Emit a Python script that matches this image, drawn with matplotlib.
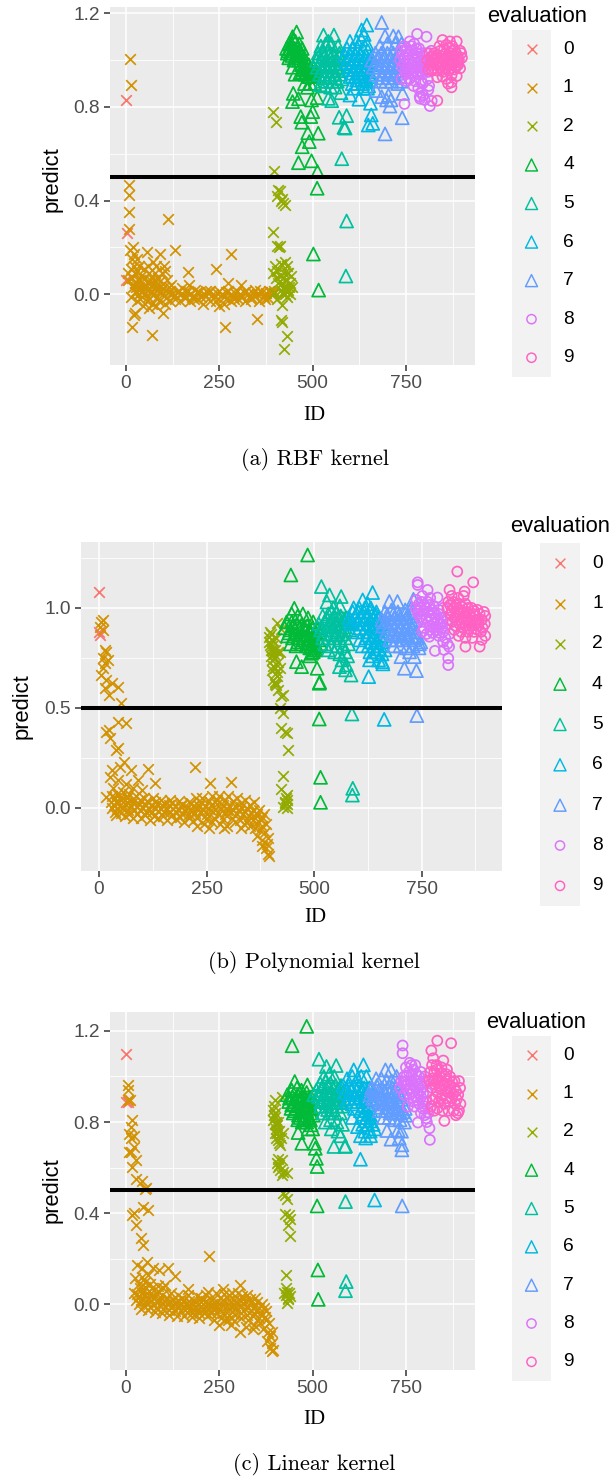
import numpy as np
import matplotlib
matplotlib.use('Agg')
import matplotlib.pyplot as plt

plt.rcParams['font.family'] = ['Liberation Sans', 'DejaVu Sans']

levels = ['0', '1', '2', '4', '5', '6', '7', '8', '9']
colors = ['#F8766D', '#D39200', '#93AA00', '#00BA38', '#00C19F', '#00B9E3', '#619CFF', '#DB72FB', '#FF61C3']
shapes = ['x', 'x', 'x', '^', '^', '^', '^', 'o', 'o']
sizes = {'x': 58, '^': 88, 'o': 52}

# RBF kernel, (ID, predict)
rbf_0 = [(0, .83), (3, .26), (1, .06)]
rbf_1 = [(10, 1.005), (13, .895), (8, .465), (8, .425), (7, .35), (9, .28), (112, .32), (131, .19), (281, .17),
         (240, .11), (165, .095), (274, .05), (308, .04), (265, -.14), (352, -.105), (70, -.175), (15, -.14),
         (25, -.08), (22, -.09), (100, -.08), (250, -.05), (10, .19), (18, .2), (22, .17), (55, .18), (90, .17),
         (72, .14), (15, .15), (30, .15), (12, .11), (20, .12), (35, .12), (48, .11), (60, .12), (80, .12),
         (102, .12), (95, .09), (105, .1), (40, .08), (25, .09), (5, .09), (15, .07), (32, .06), (50, .07),
         (65, .06), (85, .07), (110, .06), (120, .04), (5, .06), (28, .03), (42, .03), (58, .02), (72, .04),
         (90, .03), (12, -.01), (25, .01), (38, -.02), (55, -.03), (70, -.04), (88, -.03), (105, -.04), (118, -.03),
         (30, -.03), (45, -.05), (62, -.06), (80, -.05), (130, -.02), (145, -.03), (160, -.01), (172, -.03),
         (190, -.02), (205, -.04), (225, -.03), (240, -.03), (262, -.04), (280, -.03), (300, -.02), (318, -.03),
         (335, -.02), (355, -.03), (372, -.02), (28, .01), (40, .01), (52, .0), (64, .01), (76, .0), (88, .01),
         (100, .0), (112, .01), (124, .0), (136, .01), (148, .0), (160, .015), (172, .0), (184, .02), (196, .01),
         (208, .0), (220, .01), (232, .0), (244, .005), (256, .0), (268, .01), (280, .0), (292, .005), (304, .0),
         (316, .01), (328, .0), (340, .005), (352, .0), (364, .01), (376, .005), (388, .01), (396, .015), (150, .025),
         (168, .04), (182, -.02), (215, .015), (270, -.015), (290, -.02), (345, .02), (380, -.015), (390, -.005),
         (34, .0), (46, .015), (58, -.01), (70, .015), (82, -.01), (94, .015), (106, -.015), (118, .012), (130, -.005),
         (142, .012), (154, -.012), (166, .012), (178, -.012), (190, .008), (202, -.012), (214, -.008), (226, .012),
         (238, -.012), (250, .012), (262, -.012), (274, .012), (286, -.012), (298, .012), (310, -.012), (322, .012),
         (334, -.012), (346, -.008), (358, .012), (370, -.012), (382, .015), (394, .0), (36, .03), (50, .03), (66, .035),
         (82, .03), (98, .025), (114, .03), (24, .05), (38, .06), (58, .05), (76, .06), (92, .055), (30, .1), (62, .09),
         (78, .09), (18, .03)]
rbf_2 = [(395, .78), (401, .737), (396, .528), (408, .445), (412, .44), (405, .42), (415, .40), (420, .39), (425, .38),
         (418, .405), (395, .268), (405, .205), (412, .207), (409, .2), (398, .12), (405, .1), (395, .09), (415, .13),
         (425, .14), (432, .12), (402, .07), (412, .08), (422, .09), (435, .09), (442, .08), (408, .05), (418, .05),
         (428, .06), (438, .05), (445, .03), (415, .02), (425, .02), (435, .02), (420, .0), (430, -.01), (438, .0),
         (396, .005), (405, -.02), (417, -.045), (415, -.11), (418, -.117), (432, -.177), (423, -.235), (422, .03),
         (428, .03), (432, .01), (426, .0), (436, .03), (420, .07), (430, .09)]
rbf_4 = [(457, 1.12), (446, 1.1), (437, 1.07), (464, 1.07), (450, 1.085), (430, 1.05), (440, 1.05), (452, 1.05), (462, 1.04),
         (472, 1.05), (432, 1.03), (444, 1.02), (456, 1.02), (468, 1.02), (478, 1.01), (436, 1.01), (450, 1.0), (462, 1.0),
         (480, .98), (470, .98), (490, .98), (502, .97), (475, .96), (485, .96), (496, .95), (508, .96), (466, .945), (480, .94),
         (492, .93), (504, .93), (446, .97), (453, .94), (486, .884), (448, .858), (462, .835), (446, .823), (497, .83),
         (512, .84), (468, .759), (471, .735), (495, .759), (500, .78), (487, .69), (515, .688), (491, .652), (472, .63),
         (462, .562), (497, .57), (513, .524), (512, .453), (502, .172), (516, .018), (494, .9), (478, .9), (505, .9),
         (442, 1.07), (454, 1.08), (434, 1.04), (446, 1.04), (458, 1.035), (470, 1.03), (440, 1.03), (452, 1.01), (464, 1.01),
         (474, .97), (484, .97), (494, .965), (504, .95), (472, .95), (482, .95), (492, .945), (488, .93), (498, .94)]
rbf_5 = [(529, 1.107), (557, 1.107), (542, 1.08), (522, 1.06), (535, 1.07), (550, 1.07), (568, 1.06), (515, 1.03), (528, 1.03),
         (540, 1.04), (556, 1.03), (572, 1.03), (510, 1.0), (522, 1.0), (535, 1.0), (548, 1.01), (562, 1.0), (578, 1.0),
         (512, .97), (526, .97), (540, .97), (554, .97), (568, .97), (582, .97), (518, .94), (532, .94), (546, .94), (560, .94),
         (574, .94), (525, .91), (538, .91), (552, .91), (566, .91), (578, .92), (532, .89), (548, .885), (520, .895),
         (560, .885), (542, .837), (551, .827), (576, .861), (571, .756), (591, .763), (584, .713), (587, .71), (578, .579),
         (591, .313), (589, .078), (516, 1.015), (530, 1.015), (544, 1.02), (558, 1.015), (572, 1.015), (519, .985), (533, .985),
         (547, .985), (561, .985), (575, .985), (525, .955), (539, .955), (553, .955), (567, .955), (532, .925), (546, .925), (560, .925)]
rbf_6 = [(645, 1.15), (631, 1.129), (638, 1.11), (600, 1.08), (618, 1.08), (630, 1.09), (645, 1.07), (592, 1.05), (606, 1.05), (620, 1.05),
         (634, 1.05), (648, 1.04), (586, 1.02), (600, 1.02), (614, 1.02), (628, 1.02), (642, 1.02), (656, 1.01), (590, .99), (604, .99),
         (618, .99), (632, .99), (646, .99), (660, .98), (596, .96), (610, .96), (624, .96), (638, .96), (652, .95), (600, .93), (614, .93),
         (628, .93), (642, .92), (656, .93), (606, .9), (620, .9), (634, .9), (600, .851), (624, .833), (636, .88), (647, .88),
         (655, .816), (657, .766), (661, .73), (649, .723), (612, .88), (650, .89), (598, 1.005), (612, 1.005), (626, 1.005), (640, 1.005),
         (654, .995), (603, .975), (617, .975), (631, .975), (645, .975), (608, .945), (622, .945), (636, .945), (650, .94), (618, .915),
         (632, .915), (646, .91)]
rbf_7 = [(685, 1.161), (694, 1.103), (716, 1.103), (730, 1.1), (680, 1.06), (700, 1.07), (722, 1.07), (738, 1.07), (668, 1.03), (684, 1.03),
         (700, 1.03), (716, 1.03), (732, 1.03), (658, 1.0), (672, 1.0), (688, 1.0), (704, 1.0), (720, 1.0), (736, 1.0), (662, .97), (678, .97),
         (694, .97), (710, .97), (726, .97), (742, .97), (670, .94), (686, .94), (702, .94), (718, .94), (734, .93), (680, .91), (696, .91),
         (712, .91), (728, .9), (670, .87), (685, .844), (698, .83), (707, .804), (741, .858), (740, .754), (694, .685), (710, .83), (703, .85), (738, .91),
         (676, 1.015), (692, 1.015), (708, 1.015), (724, 1.015), (668, .985), (682, .985), (698, .985), (714, .985), (730, .985), (676, .955), (692, .955),
         (706, .955), (722, .955), (686, .925), (702, .925), (718, .925)]
rbf_8 = [(780, 1.112), (805, 1.1), (746, .813), (745, 1.06), (760, 1.08), (772, 1.07), (785, 1.05), (737, 1.04), (750, 1.04), (765, 1.04),
         (778, 1.03), (792, 1.03), (806, 1.03), (818, 1.04), (735, 1.0), (748, 1.01), (760, 1.0), (774, 1.0), (788, 1.0), (802, 1.0), (816, 1.01),
         (740, .97), (755, .97), (770, .97), (785, .97), (798, .97), (812, .98), (750, .94), (765, .94), (780, .94), (795, .94), (810, .95),
         (738, .92), (752, .91), (775, .91), (790, .91), (808, .92), (770, .89), (783, .88), (795, .9), (812, .89), (810, .873), (792, .86),
         (787, .844), (796, .85), (788, .835), (814, .804), (819, .826), (800, .83), (760, .92), (820, .96), (742, 1.02), (754, 1.025), (768, 1.02),
         (782, 1.015), (796, 1.015), (744, .985), (756, .985), (768, .985), (780, .985), (792, .985), (804, .985), (748, .955), (760, .955), (772, .955),
         (786, .955), (800, .955), (752, 1.05), (764, 1.06), (778, 1.05)]
rbf_9 = [(848, 1.086), (868, 1.08), (886, 1.08), (840, 1.06), (858, 1.065), (874, 1.06), (895, 1.04), (812, 1.03), (826, 1.03), (842, 1.04), (856, 1.03),
         (870, 1.03), (884, 1.03), (898, 1.03), (808, 1.0), (822, 1.0), (836, 1.01), (850, 1.0), (864, 1.0), (878, 1.0), (892, 1.0), (900, 1.01),
         (815, .98), (830, .98), (845, .98), (860, .98), (875, .98), (890, .98), (820, .955), (835, .955), (850, .95), (865, .955), (880, .96), (895, .965),
         (834, .927), (848, .93), (872, .935), (886, .932), (863, .90), (872, .884), (872, .905), (834, .827), (810, .96), (858, .92), (818, 1.015), (832, 1.02),
         (846, 1.015), (860, 1.015), (874, 1.015), (888, 1.015), (820, .99), (834, .99), (848, .99), (862, .99), (876, .99), (890, .99), (826, .965), (842, .965),
         (856, .965), (870, .965), (884, .97), (852, 1.045), (866, 1.05), (880, 1.045)]

# polynomial kernel
poly_0 = [(0, 1.08), (2, .865), (1, .88)]
poly_1 = [(5, .93), (9, .94), (3, .906), (8, .89), (13, .79), (17, .78), (9, .748), (21, .74), (9, .70), (13, .723), (5, .664), (16, .64), (29, .623),
          (43, .606), (13, .60), (23, .564), (52, .522), (44, .43), (62, .422), (23, .389), (16, .38), (25, .347), (44, .297), (39, .29), (58, .23),
          (31, .189), (48, .205), (75, .19), (114, .192), (223, .205), (91, .14), (25, .155), (130, .122), (258, .122), (307, .13), (16, .055), (33, .097),
          (45, .14), (62, .12), (80, .1), (100, .09), (30, .06), (42, .07), (55, .08), (70, .07), (86, .06), (105, .05), (125, .05), (145, .04), (165, .04),
          (185, .035), (210, .03), (225, .05), (240, .05), (262, .06), (280, .06), (300, .06), (320, .05), (340, .04), (360, .03),
          (28, .03), (40, .03), (52, .04), (65, .03), (78, .03), (92, .02), (106, .02), (120, .015), (134, .02), (148, .01), (162, .015), (176, .01),
          (190, .01), (204, .005), (218, .01), (232, .01), (246, .01), (260, .015), (274, .02), (288, .015), (302, .01), (316, .01), (330, .005), (344, .0),
          (358, -.01), (372, -.01), (384, -.03), (30, .0), (42, -.005), (54, .0), (68, -.01), (82, -.01), (96, -.01), (110, -.02), (124, -.02), (138, -.015),
          (152, -.02), (166, -.02), (180, -.02), (194, -.03), (208, -.03), (222, -.025), (236, -.02), (250, -.03), (264, -.02), (278, -.03), (292, -.03), (306, -.02),
          (320, -.03), (334, -.03), (348, -.04), (362, -.05), (376, -.06), (388, -.08), (40, -.035), (60, -.04), (78, -.05), (98, -.05), (118, -.06), (138, -.05),
          (158, -.06), (178, -.055), (198, -.07), (218, -.065), (228, -.09), (245, -.08), (262, -.07), (282, -.08), (298, -.09), (315, -.07), (330, -.1), (345, -.07),
          (362, -.1), (375, -.11), (385, -.12), (368, -.14), (380, -.16), (392, -.15), (378, -.19), (388, -.2), (392, -.23), (396, -.24), (390, -.18),
          (34, .015), (48, .015), (62, .015), (74, .01), (88, .005), (102, .0), (116, -.005), (130, .0), (144, -.005), (158, -.005), (172, -.005), (186, -.01), (200, -.015),
          (214, -.01), (228, -.005), (242, -.005), (256, -.005), (270, -.005), (284, -.005), (298, -.01), (312, -.01), (326, -.015), (340, -.02), (354, -.025), (368, -.03),
          (380, -.045), (36, .05), (50, .055), (64, .05), (80, .045), (96, .04), (112, .035), (130, .03), (150, .025), (170, .025), (192, .02), (214, .025), (236, .03), (256, .035),
          (274, .04), (294, .04), (312, .035), (330, .025), (350, .015), (36, -.02), (52, -.025), (70, -.03), (88, -.03), (106, -.035), (128, -.04), (148, -.04), (168, -.04), (188, -.045),
          (208, -.05), (228, -.05), (248, -.055), (268, -.05), (288, -.055), (308, -.05), (328, -.06), (346, -.06), (364, -.075), (380, -.09), (255, -.1), (290, -.1), (352, -.09), (338, -.08)]
poly_2 = [(413, .923), (424, .893), (397, .88), (396, .856), (401, .84), (397, .815), (409, .79), (421, .78), (401, .74), (417, .73), (409, .70), (421, .70),
          (405, .64), (411, .614), (417, .59), (428, .564), (421, .497), (428, .472), (424, .397), (436, .372), (440, .289), (428, .16), (424, .092), (438, .063),
          (432, .022), (428, .005), (436, .0), (399, .87), (403, .81), (407, .77), (412, .85), (399, .76), (405, .71), (415, .78), (408, .62), (414, .66),
          (434, .05), (436, .04), (424, .56), (432, .38), (396, .83), (400, .79), (404, .79), (410, .75), (403, .69), (413, .68), (410, .63), (433, .03), (437, .02)]
poly_4 = [(485, 1.265), (446, 1.165), (454, .998), (448, .97), (462, .96), (474, .97), (486, .95), (498, .93), (436, .93), (448, .93), (460, .92), (472, .92),
          (484, .91), (496, .9), (508, .9), (432, .9), (444, .89), (456, .89), (468, .88), (480, .88), (492, .87), (504, .88), (514, .87), (438, .86), (450, .85),
          (462, .85), (474, .85), (486, .84), (498, .84), (510, .84), (445, .82), (458, .81), (470, .82), (482, .81), (494, .8), (506, .81), (516, .82), (494, .773),
          (490, .76), (500, .79), (459, .731), (471, .706), (507, .698), (512, .623), (513, .628), (512, .444), (515, .152), (515, .027), (452, .91), (466, .9), (478, .9),
          (490, .89), (442, .875), (456, .87), (470, .865), (484, .865), (498, .86), (462, .83), (476, .84), (488, .825), (500, .82), (490, .8), (498, .78), (504, .79)]
poly_5 = [(517, 1.107), (536, 1.065), (563, 1.057), (530, 1.03), (545, 1.0), (560, 1.01), (520, .96), (533, .97), (547, .96), (562, .96), (576, .95),
          (511, .92), (525, .93), (538, .93), (552, .92), (566, .92), (580, .93), (515, .89), (528, .89), (542, .89), (556, .88), (570, .89), (583, .89),
          (520, .85), (533, .85), (547, .85), (560, .84), (573, .85), (525, .82), (540, .81), (553, .81), (568, .81), (580, .82), (548, .78), (560, .77),
          (572, .78), (533, .79), (559, .706), (575, .715), (573, .69), (586, .664), (588, .469), (590, .097), (589, .063), (565, .74), (578, .76), (518, .905), (532, .91),
          (545, .905), (558, .905), (572, .905), (522, .87), (536, .87), (550, .865), (564, .87), (530, .945), (544, .94), (556, .945), (570, .94), (540, .98), (552, .98)]
poly_6 = [(636, 1.077), (613, 1.04), (625, 1.02), (592, 1.0), (605, 1.0), (618, 1.0), (632, 1.0), (645, .98), (582, .95), (596, .96), (610, .96), (624, .96),
          (638, .95), (652, .95), (585, .92), (600, .92), (614, .92), (628, .92), (642, .91), (656, .92), (600, .88), (615, .88), (630, .88), (645, .88), (658, .88),
          (606, .84), (620, .85), (634, .85), (648, .84), (662, .86), (612, .81), (626, .81), (640, .81), (654, .81), (630, .78), (644, .78), (658, .77),
          (665, .79), (629, .74), (627, .656), (659, .731), (650, .74), (663, .442), (660, .72), (636, .76), (590, .98), (603, .98), (616, .98), (630, .98), (644, .965),
          (588, .935), (602, .94), (616, .94), (630, .94), (644, .935), (606, .9), (620, .9), (634, .9), (648, .9), (625, .865), (640, .865), (654, .865), (632, .83), (646, .825),
          (660, .83), (650, .795)]
poly_7 = [(675, 1.032), (694, 1.032), (731, 1.043), (665, .98), (680, .99), (695, .98), (712, .99), (726, 1.0), (658, .94), (672, .95), (686, .95), (700, .95),
          (714, .95), (728, .96), (660, .91), (674, .91), (688, .91), (702, .91), (716, .91), (730, .92), (668, .88), (682, .87), (696, .88), (710, .87), (724, .88),
          (738, .88), (676, .84), (690, .84), (704, .84), (718, .85), (732, .84), (745, .82), (685, .81), (700, .81), (715, .8), (730, .81), (744, .8), (748, .83),
          (702, .756), (733, .756), (710, .698), (738, .686), (739, .461), (722, .78), (670, .965), (684, .97), (698, .965), (712, .97), (726, .975), (666, .93), (680, .93),
          (694, .93), (708, .93), (722, .93), (736, .94), (672, .895), (686, .89), (700, .89), (714, .89), (728, .9), (690, .86), (704, .86), (718, .865), (734, .86), (740, .85)]
poly_8 = [(741, 1.128), (741, 1.115), (764, 1.09), (787, 1.052), (752, 1.06), (770, 1.05), (738, 1.04), (750, 1.03), (764, 1.03), (778, 1.01), (736, 1.0), (748, 1.0),
          (760, 1.0), (774, .99), (790, .99), (800, 1.0), (742, .97), (755, .97), (768, .96), (782, .95), (796, .95), (810, .94), (750, .94), (765, .93), (780, .92),
          (795, .92), (810, .92), (755, .9), (770, .89), (786, .89), (800, .88), (815, .87), (752, .881), (768, .856), (790, .86), (805, .85), (781, .785), (802, .79),
          (812, .748), (812, .714), (814, .806), (800, .83), (810, .82), (762, .87), (744, 1.02), (756, 1.015), (768, 1.015), (742, .985), (754, .985), (766, .98), (778, .975),
          (790, .97), (748, .955), (760, .95), (772, .945), (785, .935), (798, .935), (770, .91), (784, .905), (798, .9), (776, .875), (792, .875)]
poly_9 = [(833, 1.182), (870, 1.128), (815, 1.09), (850, 1.082), (820, 1.06), (835, 1.05), (848, 1.06), (812, 1.03), (824, 1.03), (838, 1.02), (852, 1.02), (866, 1.0),
          (880, .99), (895, .98), (810, 1.0), (825, 1.0), (840, .99), (855, .98), (870, .97), (885, .97), (898, .96), (818, .97), (832, .96), (846, .95), (860, .94), (875, .94),
          (890, .94), (822, .93), (838, .92), (852, .91), (866, .91), (882, .91), (897, .92), (826, .89), (842, .88), (858, .88), (872, .88), (888, .88), (836, .86), (852, .85),
          (868, .85), (890, .84), (852, .806), (885, .806), (898, .86), (816, 1.015), (830, 1.015), (844, 1.005), (858, 1.0), (872, .985), (820, .985), (834, .98), (848, .975),
          (862, .965), (876, .96), (826, .95), (840, .94), (854, .935), (868, .93), (882, .925), (830, .91), (846, .9), (860, .895), (876, .895), (892, .9)]

# linear kernel
lin_0 = [(0, 1.10), (0, .89), (6, .89)]
lin_1 = [(4, .963), (6, .94), (4, .897), (11, .897), (17, .81), (13, .78), (9, .748), (20, .74), (12, .729), (22, .69), (9, .67), (12, .67), (27, .634), (15, .605),
         (27, .549), (44, .543), (54, .51), (50, .505), (45, .429), (60, .414), (20, .40), (16, .39), (26, .348), (40, .29), (46, .26), (223, .212), (29, .173), (55, .187),
         (42, .158), (73, .158), (113, .158), (131, .124), (24, .114), (42, .12), (89, .15), (104, .085), (20, .05), (167, .066), (305, .085), (261, .066), (220, .056),
         (60, .13), (35, .09), (50, .1), (65, .09), (85, .08), (100, .07), (120, .05), (140, .04), (165, .04), (190, .035), (215, .04), (240, .05), (262, .045), (285, .05), (300, .05),
         (325, .04), (345, .03), (30, .045), (42, .05), (55, .05), (68, .05), (82, .045), (96, .04), (110, .03), (125, .025), (140, .015), (155, .02), (170, .015), (185, .01),
         (200, .01), (215, .015), (230, .02), (245, .01), (260, .02), (275, .02), (290, .02), (305, .02), (320, .015), (335, .01), (350, .01), (365, .0), (26, .02), (40, .015),
         (54, .015), (68, .015), (82, .01), (96, .0), (110, .0), (124, -.005), (138, -.01), (152, -.015), (166, -.01), (180, -.02), (194, -.025), (208, -.02), (222, -.02), (236, -.015),
         (250, -.02), (264, -.015), (278, -.02), (292, -.02), (306, -.01), (320, -.02), (334, -.03), (348, -.03), (362, -.04), (376, -.03), (40, -.02), (60, -.025), (78, -.035), (96, -.04),
         (116, -.045), (136, -.05), (156, -.05), (176, -.055), (196, -.06), (216, -.05), (236, -.07), (254, -.06), (272, -.07), (290, -.075), (308, -.06), (326, -.07), (344, -.09), (360, -.08),
         (374, -.07), (250, -.09), (305, -.12), (340, -.11), (322, -.1), (368, -.11), (380, -.12), (385, -.14), (378, -.16), (390, -.17), (385, -.19), (395, -.2), (391, -.205), (390, -.12),
         (34, .035), (48, .035), (62, .03), (76, .03), (90, .02), (104, .015), (118, .01), (132, .005), (146, .005), (160, .0), (174, .0), (188, -.005), (202, -.005), (216, .0), (230, .0),
         (244, -.005), (258, .0), (272, .0), (286, .0), (300, .0), (314, .0), (328, -.01), (342, -.01), (356, -.015), (370, -.015), (34, .0), (48, -.005), (64, -.01), (80, -.015), (98, -.02),
         (114, -.025), (130, -.03), (146, -.03), (162, -.035), (178, -.04), (196, -.04), (212, -.035), (228, -.04), (244, -.04), (260, -.04), (276, -.045), (292, -.045), (308, -.04), (324, -.045),
         (340, -.05), (356, -.06), (372, -.055), (384, -.08), (38, .07), (52, .075), (70, .07), (86, .06), (150, .03), (200, .03), (252, .03), (276, .04), (310, .035), (332, .025), (265, -.07), (282, -.09)]
lin_2 = [(399, .897), (417, .909), (395, .853), (399, .824), (404, .788), (421, .751), (402, .729), (413, .70), (404, .622), (417, .634), (408, .605), (430, .575), (417, .568),
         (421, .488), (430, .461), (426, .397), (439, .373), (433, .348), (439, .302), (428, .129), (430, .056), (424, .048), (439, .037), (430, .007), (435, .022),
         (397, .87), (400, .84), (395, .81), (407, .80), (402, .77), (410, .76), (400, .75), (408, .72), (416, .73), (406, .64), (410, .61), (412, .59), (420, .58), (425, .48), (437, .39), (428, .07),
         (397, .83), (402, .8), (405, .75), (398, .79), (411, .71), (433, .03), (428, .04), (436, .05)]
lin_4 = [(484, 1.22), (445, 1.135), (452, .978), (486, .963), (444, .94), (458, .95), (470, .94), (484, .93), (496, .91), (432, .92), (446, .91), (460, .92), (474, .91), (488, .9),
         (436, .89), (450, .88), (464, .89), (478, .88), (492, .87), (504, .89), (442, .86), (456, .86), (470, .85), (484, .85), (498, .86), (448, .84), (462, .83), (476, .83), (490, .82),
         (502, .83), (460, .81), (472, .8), (484, .8), (496, .788), (488, .77), (500, .77), (461, .754), (471, .707), (505, .707), (507, .685), (510, .641), (512, .605), (512, .432), (514, .151), (515, .022),
         (438, .905), (452, .9), (466, .905), (480, .9), (494, .89), (444, .875), (458, .87), (472, .87), (486, .87), (452, .85), (466, .845), (480, .845), (494, .84), (466, .82), (480, .815), (494, .81)]
lin_5 = [(517, 1.076), (537, 1.044), (563, 1.048), (530, 1.0), (545, 1.01), (558, 1.0), (520, .97), (534, .98), (548, .97), (562, .96), (576, .96), (510, .94), (524, .94), (538, .94),
         (552, .93), (566, .93), (580, .93), (503, .92), (516, .91), (530, .9), (544, .91), (558, .9), (572, .9), (585, .9), (522, .87), (536, .87), (550, .87), (564, .87), (578, .87),
         (528, .84), (545, .84), (560, .84), (574, .84), (534, .8), (548, .81), (565, .8), (580, .79), (550, .77), (568, .76), (575, .74), (557, .693), (586, .693), (588, .695), (588, .451), (590, .10), (588, .06),
         (526, .955), (540, .96), (554, .95), (568, .945), (515, .925), (530, .92), (544, .925), (558, .915), (572, .915), (522, .89), (536, .885), (550, .885), (564, .885), (578, .885), (540, .855), (554, .855)]
lin_6 = [(610, 1.029), (636, 1.051), (630, 1.0), (592, .99), (606, 1.0), (620, .99), (644, 1.0), (582, .96), (596, .96), (610, .96), (624, .96), (638, .95), (652, .95), (586, .93), (600, .92),
         (614, .92), (628, .93), (642, .92), (656, .92), (590, .89), (606, .88), (620, .89), (634, .89), (650, .88), (612, .86), (628, .85), (642, .85), (656, .85), (630, .82), (644, .82), (658, .82),
         (634, .79), (648, .79), (662, .79), (606, .82), (640, .76), (654, .76), (666, .77), (628, .74), (642, .73), (655, .74), (628, .637), (666, .458), (620, .78), (590, .945), (604, .94), (618, .94),
         (632, .945), (646, .935), (598, .905), (612, .905), (626, .91), (640, .905), (654, .9), (636, .87), (650, .865), (636, .835), (650, .835), (640, .805), (654, .805)]
lin_7 = [(695, 1.029), (710, 1.027), (725, 1.0), (670, .99), (684, .99), (698, .98), (712, .98), (728, .97), (658, .95), (672, .96), (686, .95), (700, .95), (714, .95), (730, .94), (742, .93),
         (654, .92), (668, .92), (682, .92), (696, .92), (710, .91), (724, .91), (738, .9), (664, .89), (678, .88), (692, .88), (706, .88), (720, .87), (734, .87), (748, .86), (678, .85), (694, .85),
         (708, .84), (722, .84), (736, .84), (749, .83), (690, .82), (705, .82), (720, .81), (734, .81), (746, .8), (699, .763), (729, .765), (710, .725), (732, .73), (739, .70), (739, .678), (740, .432), (738, .76),
         (664, .935), (678, .94), (692, .935), (706, .93), (720, .93), (734, .92), (660, .905), (674, .9), (688, .9), (702, .9), (716, .89), (730, .89), (684, .865), (698, .865), (714, .855), (728, .855), (742, .845)]
lin_8 = [(741, 1.136), (741, 1.102), (760, 1.06), (775, 1.05), (790, 1.02), (745, 1.0), (758, 1.02), (770, 1.03), (785, 1.0), (800, 1.0), (738, .98), (750, .98), (763, .98), (776, .98), (790, .97),
         (804, .98), (735, .95), (748, .96), (762, .95), (776, .95), (790, .94), (806, .93), (745, .92), (760, .92), (776, .91), (790, .91), (804, .89), (770, .89), (785, .88), (798, .87), (815, .86),
         (755, .868), (773, .868), (795, .86), (804, .817), (810, .84), (800, .83), (782, .798), (813, .773), (814, .722), (806, .80), (790, .84), (750, 1.04), (765, 1.05), (752, 1.005), (765, 1.005), (778, 1.01),
         (744, .975), (756, .97), (769, .965), (782, .965), (796, .955), (754, .94), (768, .935), (782, .93), (796, .925), (782, .895), (796, .89)]
lin_9 = [(834, 1.157), (871, 1.146), (818, 1.114), (823, 1.08), (850, 1.07), (832, 1.05), (845, 1.04), (860, 1.03), (815, 1.02), (826, 1.02), (840, 1.0), (854, 1.0), (868, 1.0), (880, .98), (892, .98),
         (812, .98), (825, .98), (838, .96), (852, .96), (866, .96), (880, .95), (895, .95), (820, .95), (834, .93), (848, .92), (862, .93), (876, .92), (890, .92), (822, .9), (838, .89), (852, .88),
         (866, .89), (882, .88), (896, .88), (818, .87), (834, .86), (848, .85), (864, .85), (878, .85), (892, .85), (826, .85), (853, .805), (889, .839), (884, .83), (820, 1.05), (832, 1.03), (846, 1.015),
         (858, 1.01), (820, .99), (834, .99), (846, .98), (860, .98), (874, .975), (828, .965), (842, .945), (856, .94), (870, .94), (884, .935), (830, .91), (844, .905), (858, .905), (872, .905), (886, .9)]

panel_a = [rbf_0, rbf_1, rbf_2, rbf_4, rbf_5, rbf_6, rbf_7, rbf_8, rbf_9]
panel_b = [poly_0, poly_1, poly_2, poly_4, poly_5, poly_6, poly_7, poly_8, poly_9]
panel_c = [lin_0, lin_1, lin_2, lin_4, lin_5, lin_6, lin_7, lin_8, lin_9]

W, H = 616, 1480
fig = plt.figure(figsize=(W / 100, H / 100), dpi=100)


def px_axes(left, top, right, bottom):
    return fig.add_axes([left / W, 1 - bottom / H, (right - left) / W, (bottom - top) / H])


def px_text(x, y, s, **kw):
    fig.text(x / W, 1 - y / H, s, ha=kw.pop('ha', 'center'), va=kw.pop('va', 'center'), **kw)


def draw_panel(box, xlim, ylim, yticks, yminor, yfmt, series):
    ax = px_axes(*box)
    ax.set_facecolor('#EBEBEB')
    for side in ax.spines.values():
        side.set_visible(False)
    ax.set_xlim(xlim)
    ax.set_ylim(ylim)
    ax.set_xticks([0, 250, 500, 750])
    ax.set_xticks([125, 375, 625, 875], minor=True)
    ax.set_yticks(yticks)
    ax.set_yticks(yminor, minor=True)
    ax.set_yticklabels([yfmt % t for t in yticks])
    ax.set_axisbelow(True)
    ax.grid(which='major', color='white', lw=1.15)
    ax.grid(which='minor', color='white', lw=0.6)
    ax.tick_params(which='major', length=4.3, width=1.1, color='#333333', labelcolor='#4D4D4D',
                   labelsize=13.8, pad=3)
    ax.tick_params(which='minor', length=0)
    for pts, c, m in zip(series, colors, shapes):
        xy = np.array(pts)
        if m == 'x':
            ax.scatter(xy[:, 0], xy[:, 1], s=sizes[m], marker=m, c=c, linewidths=1.25, zorder=3)
        else:
            ax.scatter(xy[:, 0], xy[:, 1], s=sizes[m], marker=m, facecolors='none', edgecolors=c,
                       linewidths=1.25, zorder=3)
    ax.axhline(0.5, color='black', lw=2.9, zorder=4)
    return ax


def draw_legend(title_x, title_y, box, label_x):
    leg = px_axes(*box)
    leg.set_facecolor('#F2F2F2')
    leg.set_xticks([])
    leg.set_yticks([])
    for side in leg.spines.values():
        side.set_visible(False)
    n = len(levels)
    leg.set_xlim(0, 1)
    leg.set_ylim(n, 0)
    key_h = (box[3] - box[1]) / n
    for i, (lab, c, m) in enumerate(zip(levels, colors, shapes)):
        if m == 'x':
            leg.scatter(0.5, i + 0.5, s=sizes[m] * 0.85, marker=m, c=c, linewidths=1.05)
        else:
            leg.scatter(0.5, i + 0.5, s=sizes[m] * 0.85, marker=m, facecolors='none', edgecolors=c, linewidths=1.05)
        px_text(label_x, box[1] + (i + 0.5) * key_h, lab, ha='left', fontsize=13.8, color='black')
    px_text(title_x, title_y, 'evaluation', ha='left', fontsize=15.8, color='black')


draw_panel((110, 7, 475, 365), (-43, 935), (-0.302, 1.227), [0, .4, .8, 1.2], [.2, .6, 1.0], '%.1f', panel_a)
draw_panel((81, 542, 502, 871), (-42, 937), (-0.317, 1.33), [0, .5, 1.0], [.25, .75, 1.25], '%.1f', panel_b)
draw_panel((110, 1012, 475, 1370), (-43, 935), (-0.288, 1.283), [0, .4, .8, 1.2], [.2, .6, 1.0], '%.1f', panel_c)

draw_legend(487, 16, (512, 30, 551, 377), 563)
draw_legend(510, 527, (540, 543, 580, 906), 592)
draw_legend(486, 1022, (512, 1036, 551, 1381), 563)

for x, y in [(52, 179), (22, 706), (52, 1190)]:
    px_text(x, y, 'predict', rotation=90, fontsize=15.8, color='black')
for x, y in [(314, 415), (315, 918), (314, 1420)]:
    px_text(x, y, 'ID', fontsize=15, color='black', family='Liberation Serif')

captions = ['(a) RBF kernel', '(b) Polynomial kernel', '(c) Linear kernel']
for (x, y), cap in zip([(315, 460), (314, 962), (314, 1465)], captions):
    px_text(x, y, cap, fontsize=16, color='black', family='cmr10')

fig.savefig('out.png', dpi=100)
